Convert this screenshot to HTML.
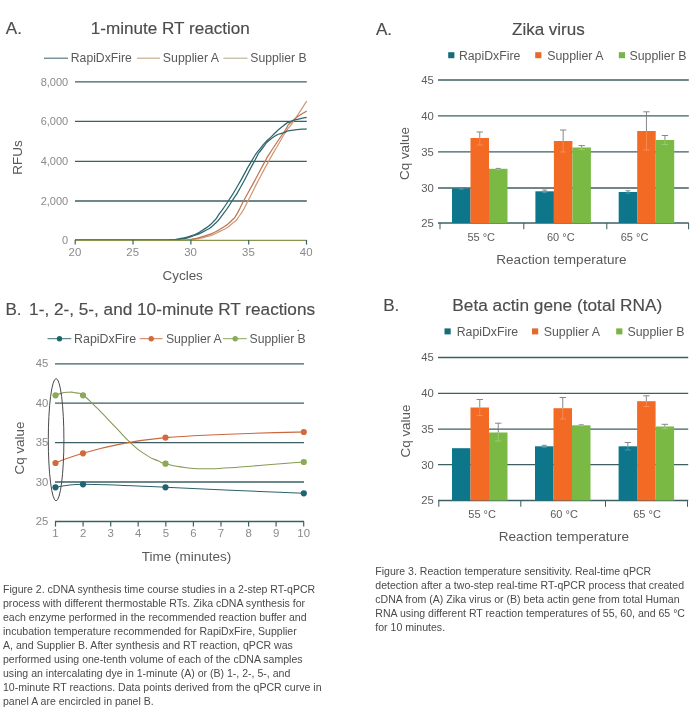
<!DOCTYPE html>
<html lang="en">
<head>
<meta charset="utf-8">
<title>RapiDxFire RT performance figures</title>
<style>
html,body{margin:0;padding:0;background:#fff;}
body{width:700px;height:717px;overflow:hidden;position:relative;font-family:"Liberation Sans",sans-serif;}
svg{position:absolute;left:0;top:0;display:block;}
svg text{font-family:"Liberation Sans",sans-serif;}
.title{font-size:17.1px;fill:#4c4c4c;stroke:#4c4c4c;stroke-width:0.15px;}
.leg{font-size:12.2px;fill:#595959;}
.axt{font-size:13.45px;fill:#595959;}
.tl{font-size:11px;fill:#8a8a8a;}
.tr{font-size:11.3px;fill:#5c5c5c;}
.xl{font-size:11px;fill:#5c5c5c;}
.grid{stroke:#3d5f64;stroke-width:1.3;fill:none;}
.cap{position:absolute;margin:0;font-size:10.55px;line-height:14px;color:#4a4a4a;white-space:nowrap;}
</style>
</head>
<body>
<svg width="700" height="717" viewBox="0 0 700 717">

<g id="chart-1min">
<text class="title" x="5.8" y="33.6">A.</text>
<text class="title" x="90.8" y="33.6">1-minute RT reaction</text>
<line x1="44" y1="58.2" x2="68" y2="58.2" stroke="#4a6f77" stroke-width="1.1"/>
<text class="leg" x="70.8" y="62.2">RapiDxFire</text>
<line x1="137" y1="58.2" x2="160" y2="58.2" stroke="#bfa685" stroke-width="1.1"/>
<text class="leg" x="162.8" y="62.2" style="font-size:12.35px">Supplier A</text>
<line x1="223.5" y1="58.2" x2="247.5" y2="58.2" stroke="#b9ae90" stroke-width="1.1"/>
<text class="leg" x="250.3" y="62.2">Supplier B</text>
<text class="tl" x="68.2" y="85.5" text-anchor="end">8,000</text>
<text class="tl" x="68.2" y="125.0" text-anchor="end">6,000</text>
<text class="tl" x="68.2" y="165.1" text-anchor="end">4,000</text>
<text class="tl" x="68.2" y="204.7" text-anchor="end">2,000</text>
<text class="tl" x="68.2" y="243.9" text-anchor="end">0</text>
<line class="grid" x1="75" y1="81.8" x2="306.8" y2="81.8"/>
<line class="grid" x1="75" y1="121.3" x2="306.8" y2="121.3"/>
<line class="grid" x1="75" y1="161.4" x2="306.8" y2="161.4"/>
<line class="grid" x1="75" y1="201.0" x2="306.8" y2="201.0"/>
<path d="M75.00,240.20 C103.33,240.17 124.33,240.17 160.00,240.10 C195.67,240.03 171.63,240.13 182.00,240.00 C192.37,239.87 183.20,240.73 191.10,239.70 C199.00,238.67 196.07,239.67 205.70,236.90 C215.33,234.13 211.43,235.60 220.00,231.40 C228.57,227.20 224.73,229.77 231.40,224.30 C238.07,218.83 234.50,222.77 240.00,215.00 C245.50,207.23 242.20,211.70 247.90,201.00 C253.60,190.30 250.20,196.10 257.10,182.90 C264.00,169.70 261.63,174.03 268.60,161.40 C275.57,148.77 272.20,154.97 278.00,145.00 C283.80,135.03 280.83,139.40 286.00,131.50 C291.17,123.60 286.60,131.40 293.50,121.30 C300.40,111.20 302.30,107.90 306.70,101.20" fill="none" stroke="#d09a76" stroke-width="1.25"/>
<path d="M75.00,240.20 C103.33,240.17 125.00,240.17 160.00,240.10 C195.00,240.03 169.63,240.27 180.00,240.00 C190.37,239.73 182.53,240.73 191.10,239.30 C199.67,237.87 196.07,239.03 205.70,235.70 C215.33,232.37 211.43,234.30 220.00,229.30 C228.57,224.30 225.70,225.93 231.40,220.70 C237.10,215.47 233.03,220.17 237.10,213.60 C241.17,207.03 237.87,211.73 243.60,201.00 C249.33,190.27 247.17,194.60 254.30,181.40 C261.43,168.20 259.77,170.90 265.00,161.40 C270.23,151.90 263.67,162.70 270.00,152.90 C276.33,143.10 276.67,142.53 284.00,132.00 C291.33,121.47 284.43,128.33 292.00,121.30 C299.57,114.27 301.80,114.37 306.70,110.90" fill="none" stroke="#bf7655" stroke-width="1.25"/>
<path d="M75.00,240.20 C100.00,240.17 117.67,240.20 150.00,240.10 C182.33,240.00 161.67,240.27 172.00,239.90 C182.33,239.53 174.63,240.10 181.00,239.00 C187.37,237.90 183.33,239.23 191.10,236.60 C198.87,233.97 196.57,235.20 204.30,231.10 C212.03,227.00 208.10,229.90 214.30,224.30 C220.50,218.70 216.97,222.07 222.90,214.30 C228.83,206.53 225.93,210.53 232.10,201.00 C238.27,191.47 234.00,198.90 241.40,185.70 C248.80,172.50 247.60,173.47 254.30,161.40 C261.00,149.33 255.47,157.37 261.50,149.50 C267.53,141.63 264.90,143.43 272.40,137.80 C279.90,132.17 277.57,135.07 284.00,132.60 C290.43,130.13 284.13,131.63 291.70,130.40 C299.27,129.17 301.70,129.40 306.70,128.90" fill="none" stroke="#2f666d" stroke-width="1.25"/>
<path d="M75.00,240.20 C100.00,240.17 118.33,240.20 150.00,240.10 C181.67,240.00 160.47,240.30 170.00,239.90 C179.53,239.50 171.57,240.23 178.60,238.90 C185.63,237.57 183.00,238.87 191.10,235.90 C199.20,232.93 195.63,234.60 202.90,230.00 C210.17,225.40 207.20,227.80 212.90,222.10 C218.60,216.40 214.87,219.93 220.00,212.90 C225.13,205.87 222.10,210.53 228.30,201.00 C234.50,191.47 230.90,197.50 238.60,184.30 C246.30,171.10 244.00,173.57 251.40,161.40 C258.80,149.23 253.80,156.40 260.80,147.80 C267.80,139.20 264.67,143.10 272.40,135.60 C280.13,128.10 278.00,129.97 284.00,125.30 C290.00,120.63 285.27,123.77 290.40,121.60 C295.53,119.43 293.97,120.23 299.40,118.80 C304.83,117.37 304.27,117.80 306.70,117.30" fill="none" stroke="#2f666d" stroke-width="1.25"/>
<line x1="75" y1="240.3" x2="306.8" y2="240.3" stroke="#86964e" stroke-width="1.25"/>
<line x1="75.2" y1="240" x2="75.2" y2="244.6" stroke="#3f6064" stroke-width="1.2"/>
<text class="tl" x="74.9" y="255.6" text-anchor="middle" style="font-size:11.4px">20</text>
<line x1="133.0" y1="240" x2="133.0" y2="244.6" stroke="#3f6064" stroke-width="1.2"/>
<text class="tl" x="132.7" y="255.6" text-anchor="middle" style="font-size:11.4px">25</text>
<line x1="190.9" y1="240" x2="190.9" y2="244.6" stroke="#3f6064" stroke-width="1.2"/>
<text class="tl" x="190.6" y="255.6" text-anchor="middle" style="font-size:11.4px">30</text>
<line x1="248.7" y1="240" x2="248.7" y2="244.6" stroke="#3f6064" stroke-width="1.2"/>
<text class="tl" x="248.4" y="255.6" text-anchor="middle" style="font-size:11.4px">35</text>
<line x1="306.5" y1="240" x2="306.5" y2="244.6" stroke="#3f6064" stroke-width="1.2"/>
<text class="tl" x="306.2" y="255.6" text-anchor="middle" style="font-size:11.4px">40</text>
<text class="axt" x="162.5" y="280">Cycles</text>
<text class="axt" transform="translate(21.8,157.5) rotate(-90)" text-anchor="middle">RFUs</text>
</g>
<g id="chart-timecourse">
<text class="title" x="5.4" y="314.9">B.</text>
<text class="title" x="29.1" y="314.9" style="font-size:17.2px">1-, 2-, 5-, and 10-minute RT reactions</text>
<line x1="47.5" y1="338.7" x2="71.3" y2="338.7" stroke="#3c6d76" stroke-width="1"/>
<circle cx="59.5" cy="338.7" r="2.7" fill="#1f6470"/>
<text class="leg" x="74.1" y="343.2" style="font-size:12.4px">RapiDxFire</text>
<line x1="139.7" y1="338.7" x2="162.6" y2="338.7" stroke="#cf7a52" stroke-width="1"/>
<circle cx="151.2" cy="338.7" r="2.7" fill="#d2693d"/>
<text class="leg" x="165.9" y="343.2" style="font-size:12.25px">Supplier A</text>
<line x1="222.9" y1="338.7" x2="246.8" y2="338.7" stroke="#8aa662" stroke-width="1"/>
<circle cx="235.2" cy="338.7" r="2.7" fill="#8aaa58"/>
<text class="leg" x="249.5" y="343.2" style="font-size:12.2px">Supplier B</text>
<circle cx="298.2" cy="330.4" r="0.7" fill="#444"/>
<text class="tl" x="48.3" y="367.4" text-anchor="end" style="font-size:11.3px">45</text>
<line class="grid" x1="55" y1="363.8" x2="304" y2="363.8"/>
<text class="tl" x="48.3" y="406.8" text-anchor="end" style="font-size:11.3px">40</text>
<line class="grid" x1="55" y1="403.2" x2="304" y2="403.2"/>
<text class="tl" x="48.3" y="446.2" text-anchor="end" style="font-size:11.3px">35</text>
<line class="grid" x1="55" y1="442.6" x2="304" y2="442.6"/>
<text class="tl" x="48.3" y="485.6" text-anchor="end" style="font-size:11.3px">30</text>
<line class="grid" x1="55" y1="482.0" x2="304" y2="482.0"/>
<text class="tl" x="48.3" y="525.1" text-anchor="end" style="font-size:11.3px">25</text>
<line class="grid" x1="55" y1="521.5" x2="304" y2="521.5"/>
<line x1="55.5" y1="521.5" x2="55.5" y2="526.6" stroke="#3f6064" stroke-width="1.2"/>
<text class="tl" x="55.5" y="536.8" text-anchor="middle" style="font-size:11.4px">1</text>
<line x1="83.1" y1="521.5" x2="83.1" y2="526.6" stroke="#3f6064" stroke-width="1.2"/>
<text class="tl" x="83.1" y="536.8" text-anchor="middle" style="font-size:11.4px">2</text>
<line x1="110.7" y1="521.5" x2="110.7" y2="526.6" stroke="#3f6064" stroke-width="1.2"/>
<text class="tl" x="110.7" y="536.8" text-anchor="middle" style="font-size:11.4px">3</text>
<line x1="138.2" y1="521.5" x2="138.2" y2="526.6" stroke="#3f6064" stroke-width="1.2"/>
<text class="tl" x="138.2" y="536.8" text-anchor="middle" style="font-size:11.4px">4</text>
<line x1="165.8" y1="521.5" x2="165.8" y2="526.6" stroke="#3f6064" stroke-width="1.2"/>
<text class="tl" x="165.8" y="536.8" text-anchor="middle" style="font-size:11.4px">5</text>
<line x1="193.4" y1="521.5" x2="193.4" y2="526.6" stroke="#3f6064" stroke-width="1.2"/>
<text class="tl" x="193.4" y="536.8" text-anchor="middle" style="font-size:11.4px">6</text>
<line x1="221.0" y1="521.5" x2="221.0" y2="526.6" stroke="#3f6064" stroke-width="1.2"/>
<text class="tl" x="221.0" y="536.8" text-anchor="middle" style="font-size:11.4px">7</text>
<line x1="248.6" y1="521.5" x2="248.6" y2="526.6" stroke="#3f6064" stroke-width="1.2"/>
<text class="tl" x="248.6" y="536.8" text-anchor="middle" style="font-size:11.4px">8</text>
<line x1="276.1" y1="521.5" x2="276.1" y2="526.6" stroke="#3f6064" stroke-width="1.2"/>
<text class="tl" x="276.1" y="536.8" text-anchor="middle" style="font-size:11.4px">9</text>
<line x1="303.7" y1="521.5" x2="303.7" y2="526.6" stroke="#3f6064" stroke-width="1.2"/>
<text class="tl" x="303.7" y="536.8" text-anchor="middle" style="font-size:11.4px">10</text>
<path d="M55.50,395.30 C57.67,394.57 57.50,394.13 62.00,393.10 C66.50,392.07 64.33,392.27 69.00,392.20 C73.67,392.13 71.33,391.87 76.00,392.90 C80.67,393.93 76.90,391.13 83.00,395.30 C89.10,399.47 88.03,399.53 94.30,405.40 C100.57,411.27 94.67,405.57 101.80,412.90 C108.93,420.23 106.07,417.40 115.70,427.40 C125.33,437.40 120.70,433.83 130.70,442.90 C140.70,451.97 136.40,448.53 145.70,454.60 C155.00,460.67 152.00,458.07 158.60,461.10 C165.20,464.13 156.70,461.57 165.50,463.70 C174.30,465.83 171.83,465.83 185.00,467.50 C198.17,469.17 190.00,468.60 205.00,468.70 C220.00,468.80 210.00,469.03 230.00,467.80 C250.00,466.57 240.40,466.93 265.00,465.00 C289.60,463.07 290.87,463.00 303.80,462.00" fill="none" stroke="#869a56" stroke-width="1.1"/>
<path d="M55.5,463 C62,460 74,456 83,453.3 C110,445 140,440 165.5,437.6 C210,434 260,433 303.8,432" fill="none" stroke="#c9683f" stroke-width="1.1"/>
<path d="M55.5,487.3 C62,486 74,484.2 83,484.3 C110,484.5 140,486.3 165.5,487.3 C210,489.5 260,491.5 303.8,493.3" fill="none" stroke="#2d626c" stroke-width="1.1"/>
<circle cx="55.5" cy="395.3" r="3.1" fill="#8aaa58"/>
<circle cx="83" cy="395.3" r="3.1" fill="#8aaa58"/>
<circle cx="165.5" cy="463.7" r="3.1" fill="#8aaa58"/>
<circle cx="303.8" cy="462.0" r="3.1" fill="#8aaa58"/>
<circle cx="55.5" cy="463" r="3.1" fill="#d2693d"/>
<circle cx="83" cy="453.3" r="3.1" fill="#d2693d"/>
<circle cx="165.5" cy="437.6" r="3.1" fill="#d2693d"/>
<circle cx="303.8" cy="432" r="3.1" fill="#d2693d"/>
<circle cx="55.5" cy="487.3" r="3.1" fill="#1f6470"/>
<circle cx="83" cy="484.3" r="3.1" fill="#1f6470"/>
<circle cx="165.5" cy="487.3" r="3.1" fill="#1f6470"/>
<circle cx="303.8" cy="493.3" r="3.1" fill="#1f6470"/>
<ellipse cx="56.1" cy="439.7" rx="7.8" ry="61.1" fill="none" stroke="#4a4a4a" stroke-width="1"/>
<text class="axt" x="141.8" y="561.2" style="font-size:13.5px">Time (minutes)</text>
<text class="axt" transform="translate(24.2,448) rotate(-90)" text-anchor="middle">Cq value</text>
</g>
<g id="chart-zika">
<text class="title" x="375.9" y="34.9">A.</text>
<text class="title" x="512.0" y="34.9" style="font-size:17.0px">Zika virus</text>
<rect x="448.2" y="52.2" width="6.2" height="6" fill="#176c7b"/>
<text class="leg" x="458.9" y="59.7" style="font-size:12.3px">RapiDxFire</text>
<rect x="535.2" y="52.2" width="6.2" height="6" fill="#e5692c"/>
<text class="leg" x="547.2" y="59.7" style="font-size:12.35px">Supplier A</text>
<rect x="618.8" y="52.2" width="6.2" height="6" fill="#77b347"/>
<text class="leg" x="629.5" y="59.7" style="font-size:12.35px">Supplier B</text>
<text class="tr" x="433.8" y="83.9" text-anchor="end">45</text>
<line class="grid" x1="438" y1="80.0" x2="688.8" y2="80.0"/>
<text class="tr" x="433.8" y="119.7" text-anchor="end">40</text>
<line class="grid" x1="438" y1="115.8" x2="688.8" y2="115.8"/>
<text class="tr" x="433.8" y="155.7" text-anchor="end">35</text>
<line class="grid" x1="438" y1="151.8" x2="688.8" y2="151.8"/>
<text class="tr" x="433.8" y="191.9" text-anchor="end">30</text>
<line class="grid" x1="438" y1="188.0" x2="688.8" y2="188.0"/>
<text class="tr" x="433.8" y="226.9" text-anchor="end">25</text>
<line class="grid" x1="438" y1="223.0" x2="688.8" y2="223.0"/>
<line x1="440" y1="223.0" x2="440" y2="229.3" stroke="#3f6064" stroke-width="1.05"/>
<line x1="523.8" y1="223.0" x2="523.8" y2="229.3" stroke="#3f6064" stroke-width="1.05"/>
<line x1="606.8" y1="223.0" x2="606.8" y2="229.3" stroke="#3f6064" stroke-width="1.05"/>
<line x1="688.6" y1="223.0" x2="688.6" y2="229.3" stroke="#3f6064" stroke-width="1.05"/>
<rect x="452.00" y="188.4" width="18.5" height="34.60" fill="#0d768a"/>
<rect x="470.50" y="138" width="18.5" height="85.00" fill="#f36a24"/>
<rect x="489.00" y="168.8" width="18.5" height="54.20" fill="#7aba44"/>
<path d="M461.25,187.6 V188.4 M458.75,187.6 H463.75" stroke="#7a7a7a" stroke-width="0.9" fill="none"/>
<path d="M461.25,188.4 V189.2 M458.75,189.2 H463.75" stroke="#ffffff" stroke-opacity="0.28" stroke-width="0.8" fill="none"/>
<path d="M479.75,132 V138 M476.55,132 H482.95" stroke="#7a7a7a" stroke-width="0.9" fill="none"/>
<path d="M479.75,138 V145 M476.55,145 H482.95" stroke="#ffffff" stroke-opacity="0.28" stroke-width="0.8" fill="none"/>
<path d="M498.25,168.4 V168.8 M495.75,168.4 H500.75" stroke="#7a7a7a" stroke-width="0.9" fill="none"/>
<path d="M498.25,168.8 V169.4 M495.75,169.4 H500.75" stroke="#ffffff" stroke-opacity="0.28" stroke-width="0.8" fill="none"/>
<rect x="535.40" y="191.3" width="18.5" height="31.70" fill="#0d768a"/>
<rect x="553.90" y="141" width="18.5" height="82.00" fill="#f36a24"/>
<rect x="572.40" y="147.5" width="18.5" height="75.50" fill="#7aba44"/>
<path d="M544.65,190 V191.3 M542.15,190 H547.15" stroke="#7a7a7a" stroke-width="0.9" fill="none"/>
<path d="M544.65,191.3 V192.6 M542.15,192.6 H547.15" stroke="#ffffff" stroke-opacity="0.28" stroke-width="0.8" fill="none"/>
<path d="M563.15,130 V141 M559.95,130 H566.35" stroke="#7a7a7a" stroke-width="0.9" fill="none"/>
<path d="M563.15,141 V152 M559.95,152 H566.35" stroke="#ffffff" stroke-opacity="0.28" stroke-width="0.8" fill="none"/>
<path d="M581.65,145.6 V147.5 M578.45,145.6 H584.85" stroke="#7a7a7a" stroke-width="0.9" fill="none"/>
<path d="M581.65,147.5 V149.6 M578.45,149.6 H584.85" stroke="#ffffff" stroke-opacity="0.28" stroke-width="0.8" fill="none"/>
<rect x="618.70" y="192" width="18.5" height="31.00" fill="#0d768a"/>
<rect x="637.20" y="131" width="18.5" height="92.00" fill="#f36a24"/>
<rect x="655.70" y="140" width="18.5" height="83.00" fill="#7aba44"/>
<path d="M627.95,190.8 V192 M625.45,190.8 H630.45" stroke="#7a7a7a" stroke-width="0.9" fill="none"/>
<path d="M627.95,192 V193.2 M625.45,193.2 H630.45" stroke="#ffffff" stroke-opacity="0.28" stroke-width="0.8" fill="none"/>
<path d="M646.45,111.8 V131 M643.25,111.8 H649.65" stroke="#7a7a7a" stroke-width="0.9" fill="none"/>
<path d="M646.45,131 V150 M643.25,150 H649.65" stroke="#ffffff" stroke-opacity="0.28" stroke-width="0.8" fill="none"/>
<path d="M664.95,135.5 V140 M661.75,135.5 H668.15" stroke="#7a7a7a" stroke-width="0.9" fill="none"/>
<path d="M664.95,140 V144.5 M661.75,144.5 H668.15" stroke="#ffffff" stroke-opacity="0.28" stroke-width="0.8" fill="none"/>
<text class="xl" x="467.4" y="240.5">55 °C</text>
<text class="xl" x="547" y="240.5">60 °C</text>
<text class="xl" x="620.7" y="240.5">65 °C</text>
<text class="axt" x="496.3" y="264.2" style="font-size:13.55px">Reaction temperature</text>
<text class="axt" transform="translate(409.0,153.5) rotate(-90)" text-anchor="middle">Cq value</text>
</g>
<g id="chart-actin">
<text class="title" x="383.2" y="310.7">B.</text>
<text class="title" x="452.3" y="310.7" style="font-size:17.25px">Beta actin gene (total RNA)</text>
<rect x="444.5" y="328.4" width="6.2" height="6" fill="#176c7b"/>
<text class="leg" x="456.7" y="335.9" style="font-size:12.3px">RapiDxFire</text>
<rect x="532" y="328.4" width="6.2" height="6" fill="#e5692c"/>
<text class="leg" x="543.7" y="335.9" style="font-size:12.35px">Supplier A</text>
<rect x="616.2" y="328.4" width="6.2" height="6" fill="#77b347"/>
<text class="leg" x="627.5" y="335.9" style="font-size:12.35px">Supplier B</text>
<text class="tr" x="433.8" y="361.4" text-anchor="end">45</text>
<line class="grid" x1="438" y1="357.5" x2="688.2" y2="357.5"/>
<text class="tr" x="433.8" y="397.2" text-anchor="end">40</text>
<line class="grid" x1="438" y1="393.3" x2="688.2" y2="393.3"/>
<text class="tr" x="433.8" y="433.1" text-anchor="end">35</text>
<line class="grid" x1="438" y1="429.2" x2="688.2" y2="429.2"/>
<text class="tr" x="433.8" y="468.5" text-anchor="end">30</text>
<line class="grid" x1="438" y1="464.6" x2="688.2" y2="464.6"/>
<text class="tr" x="433.8" y="504.4" text-anchor="end">25</text>
<line class="grid" x1="438" y1="500.5" x2="688.2" y2="500.5"/>
<line x1="438.8" y1="500.5" x2="438.8" y2="506.8" stroke="#3f6064" stroke-width="1.05"/>
<line x1="520.8" y1="500.5" x2="520.8" y2="506.8" stroke="#3f6064" stroke-width="1.05"/>
<line x1="605.5" y1="500.5" x2="605.5" y2="506.8" stroke="#3f6064" stroke-width="1.05"/>
<line x1="687.5" y1="500.5" x2="687.5" y2="506.8" stroke="#3f6064" stroke-width="1.05"/>
<rect x="452.00" y="448.2" width="18.5" height="52.30" fill="#0d768a"/>
<rect x="470.50" y="407.5" width="18.5" height="93.00" fill="#f36a24"/>
<rect x="489.00" y="432.5" width="18.5" height="68.00" fill="#7aba44"/>
<path d="M479.75,399.5 V407.5 M476.55,399.5 H482.95" stroke="#7a7a7a" stroke-width="0.9" fill="none"/>
<path d="M479.75,407.5 V415.5 M476.55,415.5 H482.95" stroke="#ffffff" stroke-opacity="0.28" stroke-width="0.8" fill="none"/>
<path d="M498.25,423.2 V432.5 M495.05,423.2 H501.45" stroke="#7a7a7a" stroke-width="0.9" fill="none"/>
<path d="M498.25,432.5 V441 M495.05,441 H501.45" stroke="#ffffff" stroke-opacity="0.28" stroke-width="0.8" fill="none"/>
<rect x="535.00" y="446.3" width="18.5" height="54.20" fill="#0d768a"/>
<rect x="553.50" y="408.2" width="18.5" height="92.30" fill="#f36a24"/>
<rect x="572.00" y="425.3" width="18.5" height="75.20" fill="#7aba44"/>
<path d="M544.25,445.3 V446.3 M541.75,445.3 H546.75" stroke="#7a7a7a" stroke-width="0.9" fill="none"/>
<path d="M544.25,446.3 V447.3 M541.75,447.3 H546.75" stroke="#ffffff" stroke-opacity="0.28" stroke-width="0.8" fill="none"/>
<path d="M562.75,397.5 V408.2 M559.55,397.5 H565.95" stroke="#7a7a7a" stroke-width="0.9" fill="none"/>
<path d="M562.75,408.2 V419 M559.55,419 H565.95" stroke="#ffffff" stroke-opacity="0.28" stroke-width="0.8" fill="none"/>
<path d="M581.25,424.8 V425.3 M578.75,424.8 H583.75" stroke="#7a7a7a" stroke-width="0.9" fill="none"/>
<path d="M581.25,425.3 V425.8 M578.75,425.8 H583.75" stroke="#ffffff" stroke-opacity="0.28" stroke-width="0.8" fill="none"/>
<rect x="618.60" y="446.3" width="18.5" height="54.20" fill="#0d768a"/>
<rect x="637.10" y="401.2" width="18.5" height="99.30" fill="#f36a24"/>
<rect x="655.60" y="426.5" width="18.5" height="74.00" fill="#7aba44"/>
<path d="M627.85,442.5 V446.3 M624.65,442.5 H631.05" stroke="#7a7a7a" stroke-width="0.9" fill="none"/>
<path d="M627.85,446.3 V450 M624.65,450 H631.05" stroke="#ffffff" stroke-opacity="0.28" stroke-width="0.8" fill="none"/>
<path d="M646.35,395.8 V401.2 M643.15,395.8 H649.55" stroke="#7a7a7a" stroke-width="0.9" fill="none"/>
<path d="M646.35,401.2 V406.5 M643.15,406.5 H649.55" stroke="#ffffff" stroke-opacity="0.28" stroke-width="0.8" fill="none"/>
<path d="M664.85,424.3 V426.5 M661.65,424.3 H668.05" stroke="#7a7a7a" stroke-width="0.9" fill="none"/>
<path d="M664.85,426.5 V428.7 M661.65,428.7 H668.05" stroke="#ffffff" stroke-opacity="0.28" stroke-width="0.8" fill="none"/>
<text class="xl" x="468.3" y="518">55 °C</text>
<text class="xl" x="550.2" y="518">60 °C</text>
<text class="xl" x="633.2" y="518">65 °C</text>
<text class="axt" x="498.8" y="541.2" style="font-size:13.55px">Reaction temperature</text>
<text class="axt" transform="translate(409.6,431) rotate(-90)" text-anchor="middle">Cq value</text>
</g>
</svg>
<p class="cap" style="left:3px;top:582.4px">Figure 2. cDNA synthesis time course studies in a 2-step RT-qPCR<br>
process with different thermostable RTs. Zika cDNA synthesis for<br>
each enzyme performed in the recommended reaction buffer and<br>
incubation temperature recommended for RapiDxFire, Supplier<br>
A, and Supplier B. After synthesis and RT reaction, qPCR was<br>
performed using one-tenth volume of each of the cDNA samples<br>
using an intercalating dye in 1-minute (A) or (B) 1-, 2-, 5-, and<br>
10-minute RT reactions. Data points derived from the qPCR curve in<br>
panel A are encircled in panel B.</p>
<p class="cap" style="left:375.3px;top:564.4px">Figure 3. Reaction temperature sensitivity. Real-time qPCR<br>
detection after a two-step real-time RT-qPCR process that created<br>
cDNA from (A) Zika virus or (B) beta actin gene from total Human<br>
RNA using different RT reaction temperatures of 55, 60, and 65 °C<br>
for 10 minutes.</p>
</body>
</html>
